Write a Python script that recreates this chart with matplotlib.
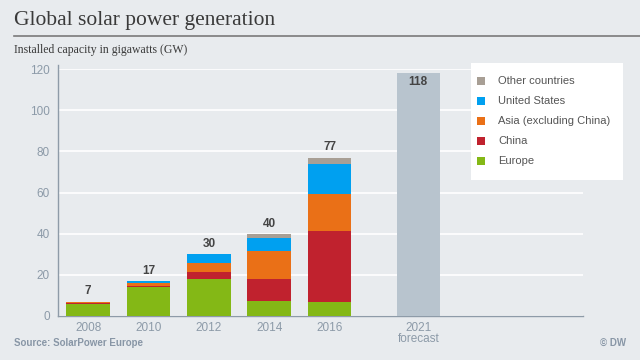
import matplotlib
matplotlib.use('Agg')
import matplotlib.pyplot as plt
import numpy as np
from matplotlib.patches import Rectangle
from matplotlib.lines import Line2D

plt.rcParams['font.family'] = ['Liberation Sans', 'DejaVu Sans']

# data (GW)
years = ['2008', '2010', '2012', '2014', '2016']
europe = [6.0, 13.9, 17.9, 7.5, 6.8]
china = [0.4, 0.8, 3.6, 10.4, 34.5]
asia = [0.3, 1.2, 4.4, 13.6, 17.8]
usa = [0.2, 1.0, 4.0, 6.3, 14.8]
other = [0.1, 0.1, 0.1, 2.2, 3.1]
totals = [7, 17, 30, 40, 77]
forecast_label = '2021\nforecast'
forecast_value = 118

series = [('Europe', europe, '#84B816'),
          ('China', china, '#C0222E'),
          ('Asia (excluding China)', asia, '#EA7017'),
          ('United States', usa, '#00A0F0'),
          ('Other countries', other, '#A89F95')]

BG = '#E8EBEE'
TICK = '#8C9AA8'

fig = plt.figure(figsize=(6.4, 3.6), dpi=100, facecolor=BG)

# header
fig.text(14/640, 1 - 20/360, 'Global solar power generation', family='Liberation Serif',
         fontsize=15.5, color='#3A3A3A', va='center', ha='left')
fig.add_artist(Line2D([14/640, 1], [1 - 36/360, 1 - 36/360], color='#7A7A7A', lw=1.2))
fig.text(14/640, 1 - 50/360, 'Installed capacity in gigawatts (GW)', family='Liberation Serif',
         fontsize=8.5, color='#3A3A3A', va='center', ha='left')

ax = fig.add_axes([58/640, 1 - 316/360, (583 - 58)/640, (316 - 69)/360])
ax.set_facecolor('none')

x = np.arange(len(years), dtype=float)
w = 0.72
bottom = np.zeros(len(years))
for name, vals, col in series:
    ax.bar(x, vals, w, bottom=bottom, color=col, edgecolor='none', zorder=3)
    bottom += np.array(vals)
for xi, t in zip(x, totals):
    ax.text(xi, t + 2, str(t), ha='center', va='bottom', fontsize=8.5,
            fontweight='bold', color='#444444')

xf = 5.47
ax.bar([xf], [forecast_value], w, color='#B8C4CE', zorder=3)
ax.text(xf, forecast_value - 1.5, str(forecast_value), ha='center', va='top',
        fontsize=8.5, fontweight='bold', color='#444444', zorder=4)

ax.set_xlim(-0.5, 8.2)
ax.set_ylim(0, 120)
ax.set_yticks(range(0, 121, 20))
ax.set_xticks(list(x) + [xf])
ax.set_xticklabels(years + [forecast_label], linespacing=0.95)
ax.tick_params(axis='both', colors=TICK, labelsize=8.5, length=0)
ax.tick_params(axis='y', pad=6)
ax.tick_params(axis='x', pad=4)
ax.grid(axis='y', color='white', lw=1.2, zorder=0)
for s in ['top', 'right']:
    ax.spines[s].set_visible(False)
for s in ['left', 'bottom']:
    ax.spines[s].set_color('#8E9BA8')
    ax.spines[s].set_linewidth(1)
ax.spines['left'].set_bounds(0, 122)
ax.set_ylim(0, 120)

# legend box
lx0, ly0, lx1, ly1 = 471/640, 1 - 180/360, 623/640, 1 - 63/360
fig.add_artist(Rectangle((lx0, ly0), lx1 - lx0, ly1 - ly0, transform=fig.transFigure,
                         facecolor='white', edgecolor='none', zorder=5))
for i, (name, vals, col) in enumerate(series[::-1]):
    yy = 1 - (81 + 20 * i)/360
    fig.add_artist(Rectangle((477/640, yy - 4/360), 8/640, 8/360, transform=fig.transFigure,
                             facecolor=col, edgecolor='none', zorder=6))
    fig.text(498/640, yy, name, fontsize=8, color='#555555', va='center', ha='left', zorder=7)

fig.text(14/640, 1 - 343/360, 'Source: SolarPower Europe', fontsize=7, fontweight='bold',
         color='#8896A6', va='center', ha='left')
fig.text(626/640, 1 - 343/360, '\u00a9 DW', fontsize=7, fontweight='bold',
         color='#8896A6', va='center', ha='right')

fig.savefig('out.png', dpi=100, facecolor=BG)
